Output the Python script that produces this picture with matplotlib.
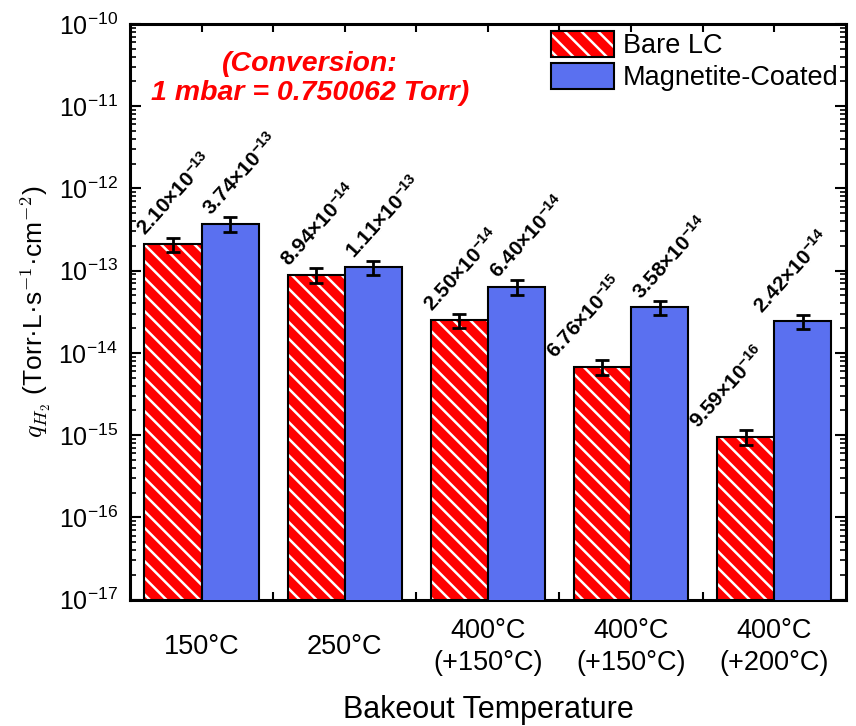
import numpy as np
import matplotlib
matplotlib.use("Agg")
import matplotlib.pyplot as plt
from matplotlib.patches import Patch
from matplotlib.ticker import LogLocator, FixedLocator, NullFormatter

plt.rcParams["font.family"] = ["Liberation Sans", "DejaVu Sans"]
plt.rcParams["mathtext.fontset"] = "custom"
plt.rcParams["mathtext.rm"] = "Liberation Sans"
plt.rcParams["mathtext.it"] = "Liberation Sans:italic"
plt.rcParams["mathtext.bf"] = "Liberation Sans:bold"
plt.rcParams["hatch.linewidth"] = 1.8

categories = ["150°C", "250°C", "400°C\n(+150°C)", "400°C\n(+150°C)", "400°C\n(+200°C)"]
bare = [2.10e-13, 8.94e-14, 2.50e-14, 6.76e-15, 9.59e-16]
bare_err = [0.42e-13, 1.8e-14, 0.50e-14, 1.35e-15, 1.9e-16]
coated = [3.74e-13, 1.11e-13, 6.40e-14, 3.58e-14, 2.42e-14]
coated_err = [0.75e-13, 2.2e-14, 1.3e-14, 0.72e-14, 0.48e-14]
bare_labels = ["2.10", "8.94", "2.50", "6.76", "9.59"]
bare_exp = ["-13", "-14", "-14", "-15", "-16"]
coated_labels = ["3.74", "1.11", "6.40", "3.58", "2.42"]
coated_exp = ["-13", "-13", "-14", "-14", "-14"]

# some labels are nudged left so they don't run into the next one / the frame
bare_label_shift = [0.0, 0.0, 0.0, -0.14, -0.14]
coated_label_shift = [0.0, 0.0, 0.0, 0.0, -0.15]

red = "#ff0000"
blue = "#5a70f0"
w = 0.4

fig = plt.figure(figsize=(8.56, 7.26), dpi=100)
ax = fig.add_axes([0.152, 0.174, 0.836, 0.793])

x = np.arange(len(categories))
xb = x - w / 2
xc = x + w / 2

# hatched red bars (hatch drawn in white), then black outline on top
ax.bar(xb, bare, w, color=red, edgecolor="white", hatch="\\\\", linewidth=0, zorder=2)
ax.bar(xb, bare, w, fill=False, edgecolor="black", linewidth=1.5, zorder=3)
ax.bar(xc, coated, w, color=blue, edgecolor="black", linewidth=1.5, zorder=3)

ax.errorbar(xb, bare, yerr=bare_err, fmt="none", ecolor="black", elinewidth=2,
            capsize=5, capthick=2, zorder=4)
ax.errorbar(xc, coated, yerr=coated_err, fmt="none", ecolor="black", elinewidth=2,
            capsize=5, capthick=2, zorder=4)

for xi, v, e, m, p, dx in zip(xb, bare, bare_err, bare_labels, bare_exp, bare_label_shift):
    ax.text(xi - w / 2 + 0.01 + dx, (v + e) * 1.02, r"$\mathbf{%s{\times}10^{%s}}$" % (m, p),
            rotation=48, rotation_mode="anchor", ha="left", va="baseline", fontsize=15)
for xi, v, e, m, p, dx in zip(xc, coated, coated_err, coated_labels, coated_exp,
                              coated_label_shift):
    ax.text(xi - w / 2 + 0.07 + dx, (v + e) * 1.02, r"$\mathbf{%s{\times}10^{%s}}$" % (m, p),
            rotation=48, rotation_mode="anchor", ha="left", va="baseline", fontsize=15)

ax.set_yscale("log")
ax.set_ylim(1e-17, 1e-10)
ax.set_xlim(-0.5, len(categories) - 0.5)
ax.yaxis.set_major_locator(LogLocator(base=10, numticks=20))
ax.yaxis.set_minor_locator(LogLocator(base=10, subs=np.arange(2, 10), numticks=20))
ax.yaxis.set_minor_formatter(NullFormatter())

ax.set_xticks(x)
ax.set_xticklabels(categories, linespacing=1.3)
for lbl in ax.get_xticklabels():
    lbl.set_verticalalignment("center")
ax.xaxis.set_minor_locator(FixedLocator(x[:-1] + 0.5))

ax.tick_params(axis="y", which="major", direction="in", length=8, width=1.5,
               left=True, right=True, labelsize=18, pad=9)
ax.tick_params(axis="y", which="minor", direction="in", length=4, width=1.2,
               left=True, right=True)
ax.tick_params(axis="x", which="major", direction="in", length=6, width=1.5,
               top=True, bottom=True, labelsize=19.5, pad=34)
ax.tick_params(axis="x", which="minor", direction="in", length=6, width=1.5,
               top=True, bottom=True)
for s in ax.spines.values():
    s.set_linewidth(2.2)

ax.set_xlabel("Bakeout Temperature", fontsize=22, labelpad=14)
ax.set_ylabel(r"$q_{H_2}$ (Torr·L·s$^{-1}$·cm$^{-2}$)", fontsize=19,
              math_fontfamily="cm", labelpad=4)

ax.text(0.251, 0.905, "(Conversion:\n1 mbar = 0.750062 Torr)", transform=ax.transAxes,
        color=red, fontsize=20.5, fontweight="bold", fontstyle="italic",
        ha="center", va="center", linespacing=1.15)

h_bare = (Patch(facecolor=red, edgecolor="white", hatch="\\\\", linewidth=0),
          Patch(fill=False, edgecolor="black", linewidth=1.5))
h_coated = Patch(facecolor=blue, edgecolor="black", linewidth=1.5)
ax.legend([h_bare, h_coated], ["Bare LC", "Magnetite-Coated"], loc="upper right",
          fontsize=19.5, frameon=False, handlelength=2.3, handleheight=1.1,
          handletextpad=0.35, labelspacing=0.15, borderaxespad=0.0,
          borderpad=0.25)

fig.savefig("out.png", dpi=100)
